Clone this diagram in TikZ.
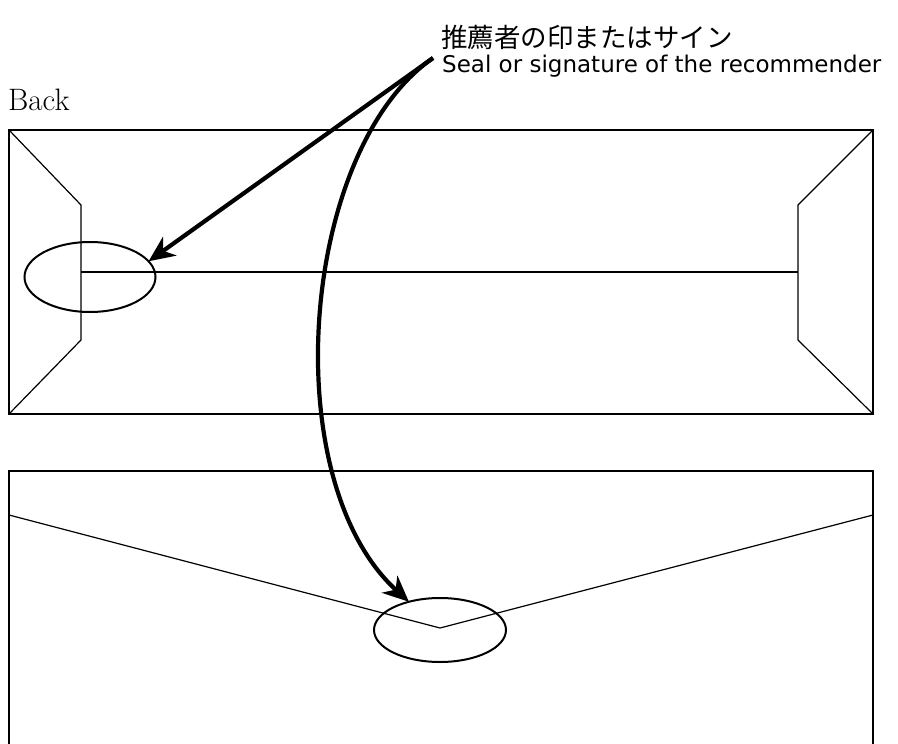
\documentclass[tikz,border=0pt]{standalone}
\usepackage{fontspec}
\newfontfamily\jpfont{Noto Sans CJK JP}
\newfontfamily\enfont{DejaVu Sans}
\usetikzlibrary{arrows.meta,shapes.geometric}
\begin{document}
\begin{tikzpicture}[x=1pt,y=-1pt,
  frame/.style={line width=2.8pt},
  fold/.style={line width=1.2pt},
  seal/.style={draw,ellipse,line width=2pt,inner sep=0pt,outer sep=0pt},
  pointer/.style={line width=4.2pt,-{Stealth[length=26pt,width=23pt,inset=8pt]}},
  label/.style={inner sep=0pt,anchor=base west}]
\useasboundingbox (0,0) rectangle (898,744);
% texts
\node[label,font=\jpfont\fontsize{26.5}{30}\selectfont] (jp) at (441,47) {推薦者の印またはサイン};
\node[label,font=\enfont\fontsize{23}{27}\selectfont] (en) at (442,72) {Seal or signature of the recommender};
\node[label,font=\fontsize{31}{36}\selectfont] (back) at (8,110) {Back};
% back of envelope
\draw[frame] (9,130) rectangle (873,414);
\draw[fold] (9,130) -- (81,205) -- (81,340) -- (9,414);
\draw[fold] (873,130) -- (798,205) -- (798,340) -- (873,414);
\draw[fold] (81,272) -- (798,272);
\node[seal,minimum width=131pt,minimum height=70pt] (lseal) at (90,277) {};
% front / flap
\draw[frame] (9,744) -- (9,471) -- (873,471) -- (873,744);
\draw[fold] (9,515) -- (440,628) -- (873,515);
\node[seal,minimum width=132pt,minimum height=64pt] (bseal) at (440,630) {};
% pointers
\coordinate (src) at (433,58);
\draw[pointer] (src) -- (lseal.15);
\draw[pointer] (src) .. controls (300,150) and (275,480) .. (bseal);
\end{tikzpicture}
\end{document}
